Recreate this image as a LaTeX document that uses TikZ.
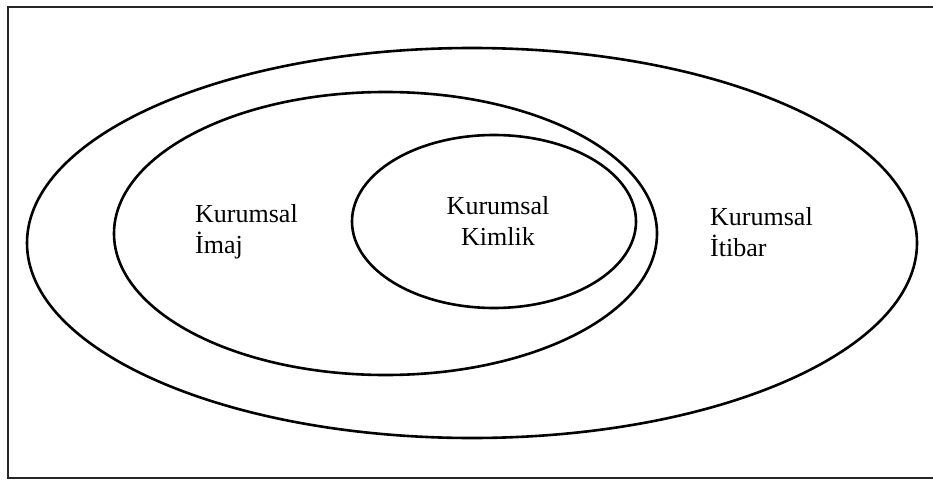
\documentclass[tikz,border=0pt]{standalone}
\usepackage{fontspec}
\setmainfont{Liberation Serif}
\begin{document}
\begin{tikzpicture}[x=1pt,y=-1pt,
  ring/.style={line width=2.6pt, black},
  frameline/.style={line width=2pt, black!85},
  label/.style={font=\fontsize{26}{31}\selectfont, inner sep=0pt, align=left}]
\useasboundingbox (0,0) rectangle (933,481);
% open frame (right side falls outside the page)
\draw[frameline] (940,7) -- (8,7) -- (8,478) -- (940,478);
% nested ellipses
\draw[ring] (472,243) ellipse [x radius=445, y radius=195];
\draw[ring] (385.5,233.5) ellipse [x radius=271.5, y radius=141.5];
\draw[ring] (494,221.5) ellipse [x radius=142, y radius=86.5];
% labels (base anchor sits on the last line)
\node[label, anchor=base west] (imaj) at (195,253) {Kurumsal\\İmaj};
\node[label, anchor=base, align=center] (kimlik) at (498,245) {Kurumsal\\Kimlik};
\node[label, anchor=base west] (itibar) at (710,256) {Kurumsal\\İtibar};
\end{tikzpicture}
\end{document}
